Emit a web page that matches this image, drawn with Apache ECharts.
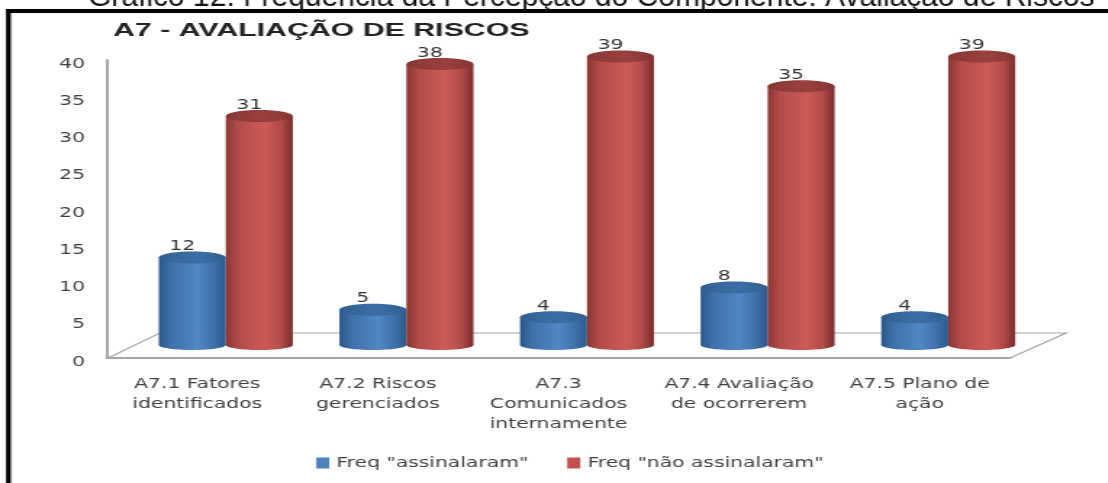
<!DOCTYPE html>
<html><head><meta charset="utf-8">
<style>html,body{margin:0;padding:0;background:#fff;overflow:hidden;width:1108px;height:483px}
#c{position:absolute;left:0;top:0;width:764px;height:483px;transform:scaleX(1.45);transform-origin:0 0}</style>
<script src="https://cdn.jsdelivr.net/npm/echarts@6/dist/echarts.min.js"></script></head>
<body><div id="c"></div>
<script>
const categories=['A7.1 Fatores\nidentificados','A7.2 Riscos\ngerenciados','A7.3\nComunicados\ninternamente','A7.4 Avaliação\nde ocorrerem','A7.5 Plano de\nação'];
const assinalaram=[12,5,4,8,4];
const naoAssinalaram=[31,38,39,35,39];
const yTicks=[0,5,10,15,20,25,30,35,40];
const seriesNames=['Freq "assinalaram"','Freq "não assinalaram"'];
const pageTitle='Gráfico 12: Frequência da Percepção do Componente: Avaliação de Riscos';
const chartTitle='A7 - AVALIAÇÃO DE RISCOS';
const sx=1.45, X=v=>v/sx;
const grad=(a,b,c,d)=>new echarts.graphic.LinearGradient(0,0,1,0,[{offset:0,color:a},{offset:.18,color:b},{offset:.58,color:c},{offset:.82,color:b},{offset:1,color:d}]);
const palette=[
 {body:['#2b5789','#3f70aa','#5087c6','#2d5a8e'],top:['#2f5c8e','#36659a','#3c6ea6','#33608f'],dx:-5,main:'#4f81bd'},
 {body:['#8c3634','#b24b49','#cf5a57','#772d2c'],top:['#843634','#8f3b39','#9a403e','#803432'],dx:62,main:'#c0504d'}];
function cyl(si,vals){
 return {type:'custom',name:seriesNames[si],coordinateSystem:'cartesian2d',clip:false,z:3+si,
  itemStyle:{color:palette[si].main},
  encode:{x:0,y:1},
  data:vals.map((v,i)=>[i,v]),
  renderItem(params,api){
   const p=palette[si];
   const top=api.coord([api.value(0),api.value(1)]);
   const base=api.coord([api.value(0),0]);
   const cx=top[0]+X(p.dx), rx=X(33.5), lift=13;
   const yT=top[1]-lift+2, yB=base[1]-lift;
   const bodyFill=grad(p.body[0],p.body[1],p.body[2],p.body[3]);
   const topFill=grad(p.top[0],p.top[1],p.top[2],p.top[3]);
   return {type:'group',children:[
    {type:'ellipse',shape:{cx:cx,cy:yB,rx:rx,ry:5},style:{fill:bodyFill}},
    {type:'rect',shape:{x:cx-rx,y:yT,width:rx*2,height:yB-yT},style:{fill:bodyFill}},
    {type:'ellipse',shape:{cx:cx,cy:yT,rx:rx,ry:6},style:{fill:topFill}},
    {type:'text',style:{text:String(api.value(1)),x:cx-X(10),y:yT-11,align:'center',verticalAlign:'middle',font:'14px "DejaVu Sans"',fill:'#333'}}
   ]};
  }};
}
const chart=echarts.init(document.getElementById('c'),null,{width:764,height:483});
chart.setOption({
 animation:false,backgroundColor:'#fff',
 grid:{left:X(107),width:X(903),top:60,height:298},
 xAxis:{type:'category',data:categories,axisTick:{show:false},
  axisLine:{lineStyle:{color:'#a6a6a6',width:2}},
  axisLabel:{margin:16,lineHeight:20,fontFamily:'DejaVu Sans',fontSize:14,color:'#404040',interval:0}},
 yAxis:{type:'value',min:0,max:40,interval:5,splitLine:{show:false},axisTick:{show:false},
  axisLine:{show:true,lineStyle:{color:'#a6a6a6',width:2}},
  axisLabel:{margin:X(22),verticalAlign:'top',lineHeight:8,fontFamily:'DejaVu Sans',fontSize:14,color:'#404040',formatter:v=>yTicks.includes(v)?String(v):''}},
 legend:{left:X(309),top:451,itemWidth:X(13),itemHeight:11,itemGap:X(39),icon:'rect',
  textStyle:{fontFamily:'DejaVu Sans',fontSize:14,color:'#404040'},data:seriesNames},
 graphic:[
  {type:'rect',z:0,shape:{x:X(6),y:9,width:X(1102),height:4},style:{fill:'#000'}},
  {type:'rect',z:0,shape:{x:X(6),y:9,width:X(5),height:474},style:{fill:'#000'}},
  {type:'rect',z:0,shape:{x:X(11),y:13,width:X(1),height:470},style:{fill:'#bbb'}},
  {type:'polyline',z:1,shape:{points:[[X(108),358],[X(160),333],[X(1066),333],[X(1010),358]]},style:{fill:'none',stroke:'#a6a6a6',lineWidth:1.2}},
  {type:'text',z:1,x:X(88),y:-17,scaleX:1/sx,style:{text:pageTitle,font:'30px "Liberation Sans"',fill:'#111'}},
  {type:'text',z:1,x:X(113),y:21,scaleX:1.1,style:{text:chartTitle,font:'bold 19px "Liberation Sans"',fill:'#222'}}
 ],
 series:[cyl(0,assinalaram),cyl(1,naoAssinalaram)]
});
</script></body></html>
